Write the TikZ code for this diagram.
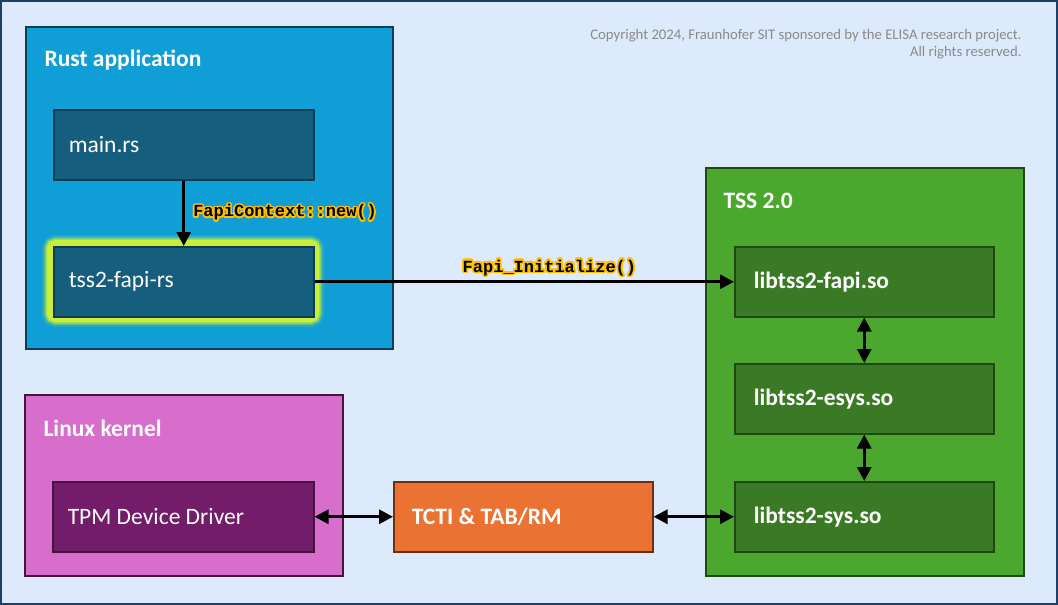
\documentclass[tikz,border=0pt]{standalone}
\usepackage{fontspec}
\setmainfont{Carlito}
\newfontfamily\codefont{Liberation Mono}
\usepackage{contour}
\usetikzlibrary{arrows.meta}

\definecolor{bgblue}{HTML}{DCEAFB}
\definecolor{frameblue}{HTML}{1F3F66}
\definecolor{appblue}{HTML}{109ED6}
\definecolor{appdark}{HTML}{155E7E}
\definecolor{appborder}{HTML}{0D3C55}
\definecolor{glowgreen}{HTML}{C8F03A}
\definecolor{kernelpink}{HTML}{D86ECB}
\definecolor{kerneldark}{HTML}{731D6A}
\definecolor{kernelborder}{HTML}{4A1243}
\definecolor{tctiorange}{HTML}{EA7233}
\definecolor{tctiborder}{HTML}{6B300F}
\definecolor{tssgreen}{HTML}{4CA72F}
\definecolor{tssdark}{HTML}{3A7A25}
\definecolor{tssborder}{HTML}{1E4A12}
\definecolor{copygray}{HTML}{8A8A8A}
\definecolor{codegold}{HTML}{FFC000}

\contourlength{1.6pt}
\contournumber{24}
\newcommand{\codelbl}[1]{\contour{codegold}{\codefont\bfseries #1}}

\tikzset{
  container/.style={draw, line width=1.5pt, anchor=north west, inner sep=0pt},
  grouptitle/.style={anchor=west, text=white, font=\fontsize{23.5}{28}\selectfont\bfseries},
  modbox/.style={draw, line width=1.5pt, anchor=north west, minimum height=70pt,
    inner xsep=15pt, text width=230pt, align=flush left, text=white,
    font=\fontsize{23.5}{28}\selectfont},
  libbox/.style={modbox, fill=tssdark, draw=tssborder, font=\fontsize{23.5}{28}\selectfont\bfseries,
    inner xsep=19pt, text width=221pt},
  link/.style={line width=3pt, -{Triangle[length=14pt,width=14pt]}},
  duplex/.style={line width=3pt, {Triangle[length=14pt,width=14pt]}-{Triangle[length=14pt,width=14pt]}},
  codelabel/.style={font=\fontsize{17}{20}\selectfont, inner sep=2pt}
}

\begin{document}
\begin{tikzpicture}[x=1pt,y=-1pt]
  % page and frame
  \useasboundingbox (0,0) rectangle (1058,605);
  \fill[bgblue] (0,0) rectangle (1058,605);
  \draw[frameblue, line width=2pt] (1,1) rectangle (1057,604);

  \node[anchor=north east, align=right, text=copygray, font=\fontsize{14.7}{16.5}\selectfont]
    (copy) at (1025,26) {Copyright 2024, Fraunhofer SIT sponsored by the ELISA research project.\\All rights reserved.};

  % groups
  \node[container, fill=appblue, draw=appborder, minimum width=367pt, minimum height=322pt] (rustapp) at (25,26) {};
  \node[grouptitle] (rusttitle) at (41,60) {Rust application};
  \node[container, fill=kernelpink, draw=kernelborder, minimum width=318pt, minimum height=181pt] (kernel) at (24,394) {};
  \node[grouptitle] (kerneltitle) at (40,428) {Linux kernel};
  \node[container, fill=tssgreen, draw=tssborder, minimum width=318pt, minimum height=408pt] (tss) at (705,167) {};
  \node[grouptitle] (tsstitle) at (720,201) {TSS 2.0};

  % glow behind tss2-fapi-rs
  \foreach \w/\o in {22/0.15, 18/0.3, 15/0.6, 12/1} {
    \draw[glowgreen, line width=\w pt, opacity=\o, rounded corners=3pt] (53,246) rectangle (313,316);
  }

  % modules
  \node[modbox, fill=appdark, draw=appborder] (mainrs) at (53,109) {main.rs};
  \node[modbox, fill=appdark, draw=appborder] (fapirs) at (53,246) {tss2-fapi-rs};
  \node[modbox, fill=kerneldark, draw=kernelborder, text width=231pt] (tpmdrv) at (52,481) {TPM Device Driver};
  \node[modbox, fill=tctiorange, draw=tctiborder, font=\fontsize{23.5}{28}\selectfont\bfseries,
    inner xsep=18pt, text width=223pt] (tcti) at (393,481) {TCTI \& TAB/RM};
  \node[libbox] (libfapi) at (734,246) {libtss2-fapi.so};
  \node[libbox] (libesys) at (734,363) {libtss2-esys.so};
  \node[libbox] (libsys) at (734,481) {libtss2-sys.so};

  % calls
  \draw[link] (mainrs) -- node[codelabel, right, xshift=6pt] {\codelbl{FapiContext::new()}} (fapirs);
  \draw[link] (fapirs) -- node[codelabel, above, pos=0.56, yshift=1pt] {\codelbl{Fapi\_Initialize()}} (libfapi);
  \draw[duplex] (libfapi) -- (libesys);
  \draw[duplex] (libesys) -- (libsys);
  \draw[duplex] (tpmdrv) -- (tcti);
  \draw[duplex] (tcti) -- (libsys);
\end{tikzpicture}
\end{document}
